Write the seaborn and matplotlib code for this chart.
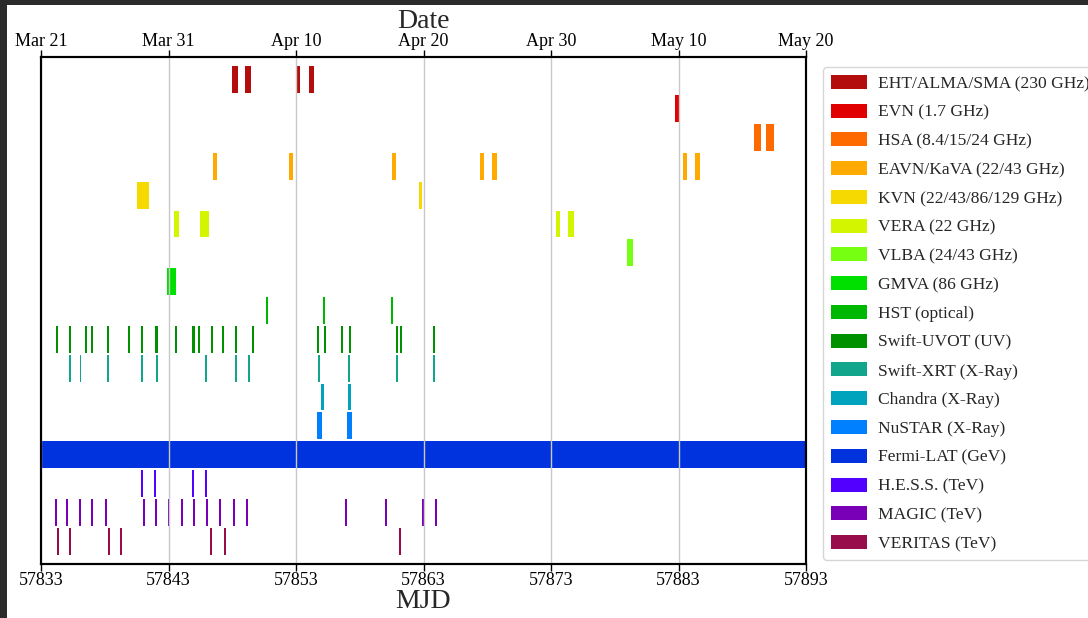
import matplotlib
matplotlib.use("Agg")
import matplotlib.pyplot as plt
import seaborn as sns
from matplotlib.patches import Patch, Rectangle

# ---------------- data ----------------
instruments = [
    "EHT/ALMA/SMA (230 GHz)", "EVN (1.7 GHz)", "HSA (8.4/15/24 GHz)",
    "EAVN/KaVA (22/43 GHz)", "KVN (22/43/86/129 GHz)", "VERA (22 GHz)",
    "VLBA (24/43 GHz)", "GMVA (86 GHz)", "HST (optical)", "Swift-UVOT (UV)",
    "Swift-XRT (X-Ray)", "Chandra (X-Ray)", "NuSTAR (X-Ray)", "Fermi-LAT (GeV)",
    "H.E.S.S. (TeV)", "MAGIC (TeV)", "VERITAS (TeV)",
]
colors = [
    "#b40d0d", "#e00000", "#ff6a00", "#ffaa00", "#f5d900", "#d4f500",
    "#77ff11", "#00e000", "#00b800", "#009100", "#11a68c", "#00a3bb",
    "#0080ff", "#0033dd", "#5200ff", "#7a00b8", "#990c4c",
]

# observation mid-times (MJD) and durations (days)
eht_mid = [57848.22, 57849.22, 57853.2, 57854.2]
eht_dur = [0.45, 0.45, 0.3, 0.4]
evn_mid = [57882.9]
evn_dur = [0.42]
hsa_mid = [57889.2, 57890.2]
hsa_dur = [0.6, 0.62]
eavn_mid = [57846.65, 57852.6, 57860.7, 57867.6, 57868.55, 57883.5, 57884.5]
eavn_dur = [0.28, 0.28, 0.36, 0.36, 0.38, 0.36, 0.38]
kvn_mid = [57841.0, 57862.75]
kvn_dur = [0.94, 0.2]
vera_mid = [57843.6, 57845.8, 57873.55, 57874.55]
vera_dur = [0.4, 0.68, 0.26, 0.45]
vlba_mid = [57879.2]
vlba_dur = [0.52]
gmva_mid = [57843.2]
gmva_dur = [0.7]
hst_mid = [57850.7, 57855.2, 57860.5]
hst_dur = [0.15, 0.15, 0.15]
uvot_mid = [57834.28, 57835.30, 57836.50, 57837.0, 57838.25, 57839.90,
            57840.92, 57842.04, 57843.56, 57844.97, 57845.39, 57846.38,
            57847.27, 57848.32, 57849.65, 57854.75, 57855.30, 57856.61,
            57857.21, 57860.95, 57861.24, 57863.85]
uvot_dur = [0.15, 0.15, 0.15, 0.15, 0.15, 0.15, 0.15, 0.22, 0.15, 0.22, 0.15,
            0.15, 0.15, 0.15, 0.15, 0.15, 0.15, 0.15, 0.15, 0.15, 0.15, 0.15]
xrt_mid = [57835.30, 57836.09, 57838.25, 57840.92, 57842.07, 57845.94,
           57848.32, 57849.29, 57854.78, 57857.16, 57860.95, 57863.85]
xrt_dur = [0.14] * 12
chandra_mid = [57855.08, 57857.18]
chandra_dur = [0.26, 0.26]
nustar_mid = [57854.84, 57857.18]
nustar_dur = [0.4, 0.4]
fermi_mid = [57863.0]
fermi_dur = [60.0]
hess_mid = [57840.95, 57841.97, 57844.95, 57845.97]
hess_dur = [0.17, 0.17, 0.17, 0.17]
magic_mid = [57834.15, 57835.06, 57836.06, 57837.0, 57838.12, 57841.08,
             57842.02, 57843.01, 57844.03, 57844.97, 57845.99, 57847.06,
             57848.11, 57849.13, 57856.92, 57860.03, 57862.98, 57864.0]
magic_dur = [0.17] * 18
veritas_mid = [57834.31, 57835.30, 57838.31, 57839.30, 57846.31, 57847.41,
               57861.18]
veritas_dur = [0.18] * 7

series = [
    (eht_mid, eht_dur), (evn_mid, evn_dur), (hsa_mid, hsa_dur),
    (eavn_mid, eavn_dur), (kvn_mid, kvn_dur), (vera_mid, vera_dur),
    (vlba_mid, vlba_dur), (gmva_mid, gmva_dur), (hst_mid, hst_dur),
    (uvot_mid, uvot_dur), (xrt_mid, xrt_dur), (chandra_mid, chandra_dur),
    (nustar_mid, nustar_dur), (fermi_mid, fermi_dur), (hess_mid, hess_dur),
    (magic_mid, magic_dur), (veritas_mid, veritas_dur),
]

mjd_ticks = [57833, 57843, 57853, 57863, 57873, 57883, 57893]
date_labels = ["Mar 21", "Mar 31", "Apr 10", "Apr 20", "Apr 30", "May 10", "May 20"]

# ---------------- style ----------------
sns.set_theme(style="white")
plt.rcParams["font.family"] = ["Liberation Serif", "DejaVu Serif"]

fig = plt.figure(figsize=(10.88, 6.18), dpi=100, facecolor="#2b2b2b")
fig.patches.append(Rectangle((7 / 1088, 0), 1, 1 - 5 / 618, transform=fig.transFigure,
                             facecolor="white", edgecolor="none", zorder=-10))
ax = fig.add_axes([41 / 1088, 1 - 564 / 618, 765 / 1088, 507 / 618])
ax.set_facecolor("white")

for i, ((mids, durs), col) in enumerate(zip(series, colors)):
    lefts = [m - d / 2 for m, d in zip(mids, durs)]
    ax.barh([i] * len(mids), durs, left=lefts, height=0.93, color=col,
            edgecolor="none", linewidth=0, zorder=2)

ax.set_xlim(57833, 57893)
ax.set_ylim(16.79, -0.79)
ax.set_yticks([])
ax.set_xticks(mjd_ticks)
ax.tick_params(axis="x", labelsize=13, direction="out", length=5, width=1,
               bottom=True, colors="black", pad=1)
ax.grid(axis="x", color="#c8c8c8", linewidth=1, zorder=3)
ax.set_axisbelow(False)
for s in ax.spines.values():
    s.set_color("black")
    s.set_linewidth(1.5)

ax2 = ax.twiny()
ax2.set_xlim(ax.get_xlim())
ax2.set_xticks(mjd_ticks)
ax2.set_xticklabels(date_labels)
ax2.tick_params(axis="x", labelsize=13, direction="out", length=5, width=1,
                top=True, colors="black", pad=0)
for s in ax2.spines.values():
    s.set_color("black")
    s.set_linewidth(1.5)

cx = (41 + 806) / 2 / 1088
fig.text(cx, 1 - 21 / 618, "Date", fontsize=20, ha="center", va="center")
fig.text(cx, 1 - 602 / 618, "MJD", fontsize=20, ha="center", va="center")

handles = [Patch(facecolor=c, edgecolor="none", label=l) for c, l in zip(colors, instruments)]
leg = fig.legend(handles=handles, loc="upper left", bbox_to_anchor=(823 / 1088, 1 - 67 / 618),
                 bbox_transform=fig.transFigure, borderaxespad=0, fontsize=12.6,
                 frameon=True, fancybox=True, edgecolor="#cccccc",
                 handlelength=2.05, handleheight=0.85, handletextpad=0.62,
                 labelspacing=0.67, borderpad=0.45)
leg.get_frame().set_linewidth(1)

fig.savefig("out.png", dpi=100, facecolor=fig.get_facecolor())
